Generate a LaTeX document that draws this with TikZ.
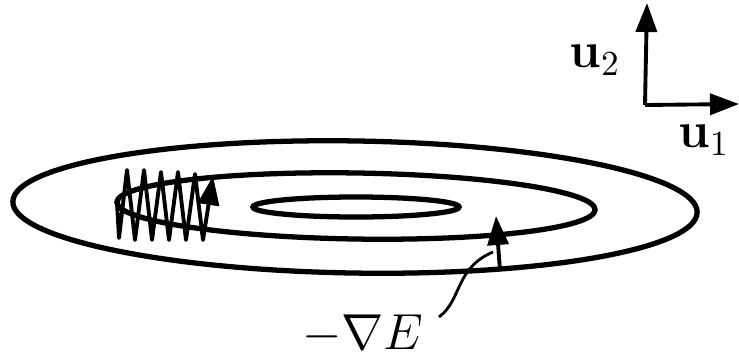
\documentclass[tikz,border=0pt]{standalone}
\usepackage{amsmath,amssymb,bm}
\usetikzlibrary{arrows.meta}

\begin{document}
\begin{tikzpicture}[x=0.01cm, y=-0.01cm, >={Triangle[length=2.9mm,width=2.1mm]},
    contour/.style={draw=black, line width=1.5pt},
    descent/.style={draw=black, line width=1.1pt, line join=round},
    axis/.style={draw=black, line width=1.1pt, ->},
    lbl/.style={font=\Large, inner sep=1pt}]

    \useasboundingbox (0,0) rectangle (739,354);

    % energy contours
    \draw [contour] (355,207) ellipse [x radius=3.42cm, y radius=0.66cm, rotate=-0.9];
    \draw [contour] (356,206) ellipse [x radius=2.39cm, y radius=0.33cm, rotate=-0.9];
    \draw [contour] (356,207) ellipse [x radius=1.03cm, y radius=0.10cm];

    % oscillating descent
    \draw [descent, ->] (117,203) -- (119,238) -- (127,170) -- (135,240) -- (144,170) -- (152,240)
        -- (161,172) -- (169,240) -- (178,172) -- (186,240) -- (195,174) -- (203,240) -- (213,176);

    % gradient direction
    \coordinate (gbase) at (500,271);
    \coordinate (gtip) at (496,216);
    \draw [descent, ->] (gbase) -- (gtip);

    \node [lbl] (grad) at (363,334) {$-\nabla E$};
    \coordinate (foot) at (439,317);
    \coordinate (lead) at (493,252);
    \draw [line width=0.8pt] (foot) .. controls (462,300) and (455,268) .. (lead);

    % axes
    \coordinate (orig) at (645,105);
    \coordinate (u2tip) at (647,3);
    \coordinate (u1tip) at (739,104);
    \draw [axis] (orig) -- (u2tip);
    \draw [axis] (orig) -- (u1tip);
    \node [lbl] (u2) at (595,60) {$\mathbf{u}_2$};
    \node [lbl] (u1) at (704,140) {$\mathbf{u}_1$};
\end{tikzpicture}
\end{document}
